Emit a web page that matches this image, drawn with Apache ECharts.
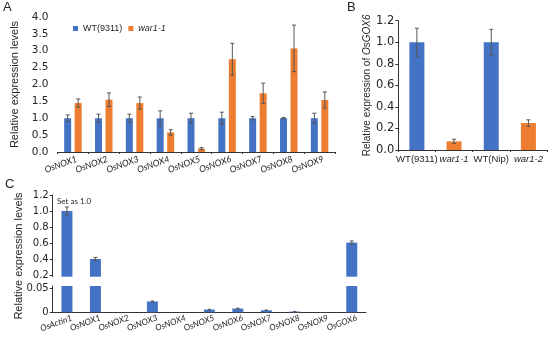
<!DOCTYPE html>
<html><head><meta charset="utf-8">
<script src="https://cdn.jsdelivr.net/npm/echarts@6/dist/echarts.min.js"></script>
<style>html,body{margin:0;padding:0;background:#fff}#c{width:550px;height:344px}</style>
</head><body><div id="c"></div>
<script>
// ---- Panel A data ----
var catsA = ['OsNOX1','OsNOX2','OsNOX3','OsNOX4','OsNOX5','OsNOX6','OsNOX7','OsNOX8','OsNOX9'];
var wtA   = [1.0, 1.0, 1.0, 1.0, 1.0, 1.0, 1.0, 1.0, 1.0];
var wtAErr = [0.10, 0.12, 0.12, 0.22, 0.15, 0.18, 0.05, 0.02, 0.15];
var warA  = [1.45, 1.55, 1.45, 0.58, 0.10, 2.75, 1.74, 3.07, 1.54];
var warAErr = [0.12, 0.20, 0.18, 0.08, 0.03, 0.47, 0.30, 0.69, 0.24];
var ticksA = [0, 0.5, 1.0, 1.5, 2.0, 2.5, 3.0, 3.5, 4.0];
// ---- Panel B data ----
var catsB = ['WT(9311)','war1-1','WT(Nip)','war1-2'];
var valsB = [1.0, 0.08, 1.0, 0.25];
var errB  = [0.13, 0.02, 0.12, 0.03];
var ticksB = [0, 0.2, 0.4, 0.6, 0.8, 1.0, 1.2];
// ---- Panel C data ----
var catsC = ['OsActin1','OsNOX1','OsNOX2','OsNOX3','OsNOX4','OsNOX5','OsNOX6','OsNOX7','OsNOX8','OsNOX9','OsGOX6'];
var valsC = [1.0, 0.40, 0.0003, 0.0226, 0.0002, 0.0057, 0.0078, 0.0042, 0.0015, 0.0003, 0.605];
var errC  = [0.05, 0.02, 0, 0.001, 0, 0.0005, 0.0008, 0.0005, 0.0004, 0, 0.02];
var ticksCUpper = [0.2, 0.4, 0.6, 0.8, 1.0, 1.2];
var ticksCLower = [0, 0.05];
var breakLow = 0.0548, breakHigh = 0.179;

var BLUE = '#4472C4', ORANGE = '#ED7D31', ERR = '#555';
var barWA = 7;

function errRender(offsetPx, cap) {
  return function (params, api) {
    var x = api.value(0), v = api.value(1), e = api.value(2);
    var hi = api.coord([x, v + e]), lo = api.coord([x, v - e]);
    var cx = hi[0] + offsetPx;
    var st = {stroke: ERR, lineWidth: 1};
    return {type: 'group', children: [
      {type: 'line', shape: {x1: cx, y1: hi[1], x2: cx, y2: lo[1]}, style: st},
      {type: 'line', shape: {x1: cx - cap, y1: hi[1], x2: cx + cap, y2: hi[1]}, style: st},
      {type: 'line', shape: {x1: cx - cap, y1: lo[1], x2: cx + cap, y2: lo[1]}, style: st}
    ]};
  };
}
function errData(vals, errs, filt) {
  var out = [];
  vals.forEach(function (v, i) { if (!filt || filt(v)) out.push([i, v, errs[i]]); });
  return out;
}
function tf(size) { return {color: '#262626', fontFamily: 'DejaVu Sans', fontSize: size}; }
function cf(size) { return {color: '#262626', fontFamily: 'Lato', fontStyle: 'italic', fontSize: size}; }

var chart = echarts.init(document.getElementById('c'), null, {renderer: 'canvas'});
var option = {
  animation: false,
  backgroundColor: '#fff',
  grid: [
    {left: 57.5, right: 215, top: 17, bottom: 192},
    {left: 398.3, right: 3, top: 20.7, bottom: 194},
    {left: 52.7, right: 184, top: 195, bottom: 67.3},
    {left: 52.7, right: 184, top: 286, bottom: 31.7}
  ],
  legend: {
    data: ['WT(9311)', 'war1-1'],
    left: 68, top: 19, itemWidth: 5, itemHeight: 5, itemGap: 6,
    icon: 'rect',
    textStyle: {fontFamily: 'Liberation Sans', fontSize: 9, color: '#262626',
      rich: {i: {fontStyle: 'italic', fontFamily: 'Liberation Sans', fontSize: 9, color: '#262626'}}},
    formatter: function (n) { return n === 'war1-1' ? '{i|war1-1}' : n; }
  },
  xAxis: [
    {gridIndex: 0, type: 'category', data: catsA,
     axisLine: {lineStyle: {color: '#333', width: 1}},
     axisTick: {show: true, length: 2, lineStyle: {color: '#333'}},
     axisLabel: Object.assign({interval: 0, rotate: 20, margin: 8, padding: [0, -4, 0, 0]}, cf(9))},
    {gridIndex: 1, type: 'category', data: catsB,
     axisLine: {lineStyle: {color: '#333', width: 1}},
     axisTick: {show: true, length: 2, lineStyle: {color: '#333'}},
     axisLabel: {interval: 0, margin: 4, color: '#262626', fontFamily: 'Liberation Sans', fontSize: 9.5,
       rich: {i: {fontStyle: 'italic', fontFamily: 'Liberation Sans', fontSize: 9.5, color: '#262626'}},
       formatter: function (n) { return n.indexOf('war') === 0 ? '{i|' + n + '}' : n; }}},
    {gridIndex: 2, type: 'category', data: catsC, show: false},
    {gridIndex: 3, type: 'category', data: catsC,
     axisLine: {lineStyle: {color: '#333', width: 1}},
     axisTick: {show: false},
     axisLabel: Object.assign({interval: 0, rotate: 20, margin: 7, padding: [0, -5, 0, 0]}, cf(8.5))}
  ],
  yAxis: [
    {gridIndex: 0, type: 'value', min: 0, max: 4, interval: 0.5,
     splitLine: {show: false}, axisLine: {show: false}, axisTick: {show: false},
     axisLabel: Object.assign({margin: 9, formatter: function (v) { return v.toFixed(1); }}, tf(10.5)),
     name: 'Relative expression levels', nameLocation: 'middle', nameGap: 27,
     nameTextStyle: {fontFamily: 'Liberation Sans', fontSize: 11, color: '#262626'}},
    {gridIndex: 1, type: 'value', min: 0, max: 1.2, interval: 0.2,
     splitLine: {show: false}, axisLine: {show: true, lineStyle: {color: '#333'}},
     axisTick: {show: true, length: 3, lineStyle: {color: '#333'}},
     axisLabel: Object.assign({margin: 4, formatter: function (v) { return v.toFixed(1); }}, tf(11.5)),
     name: 'Relative expression of {i|OsGOX6}', nameLocation: 'middle', nameGap: 20,
     nameTextStyle: {fontFamily: 'Liberation Sans', fontSize: 10, color: '#262626',
       rich: {i: {fontStyle: 'italic', fontFamily: 'Liberation Sans', fontSize: 10, color: '#262626'}}}},
    {gridIndex: 2, type: 'value', min: breakHigh, max: 1.2,
     splitLine: {show: false}, axisLine: {show: true, lineStyle: {color: '#333'}},
     axisTick: {show: true, length: 3, lineStyle: {color: '#333'}, customValues: ticksCUpper},
     axisLabel: Object.assign({margin: 4, customValues: ticksCUpper,
       formatter: function (v) { return v.toFixed(1); }}, tf(10))},
    {gridIndex: 3, type: 'value', min: 0, max: breakLow,
     splitLine: {show: false}, axisLine: {show: true, lineStyle: {color: '#333'}},
     axisTick: {show: true, length: 3, lineStyle: {color: '#333'}, customValues: ticksCLower},
     axisLabel: Object.assign({margin: 4, customValues: ticksCLower,
       formatter: function (v) { return v === 0 ? '0' : String(v); }}, tf(10))}
  ],
  series: [
    {name: 'WT(9311)', type: 'bar', xAxisIndex: 0, yAxisIndex: 0, data: wtA,
     barWidth: barWA, barGap: '50%', itemStyle: {color: BLUE}},
    {name: 'war1-1', type: 'bar', xAxisIndex: 0, yAxisIndex: 0, data: warA,
     barWidth: barWA, barGap: '50%', itemStyle: {color: ORANGE}},
    {type: 'custom', xAxisIndex: 0, yAxisIndex: 0, renderItem: errRender(-barWA * 0.75, 2),
     data: errData(wtA, wtAErr), z: 5},
    {type: 'custom', xAxisIndex: 0, yAxisIndex: 0, renderItem: errRender(barWA * 0.75, 2),
     data: errData(warA, warAErr), z: 5},
    {type: 'bar', xAxisIndex: 1, yAxisIndex: 1, barWidth: 15,
     data: valsB.map(function (v, i) { return {value: v, itemStyle: {color: i % 2 === 0 ? BLUE : ORANGE}}; })},
    {type: 'custom', xAxisIndex: 1, yAxisIndex: 1, renderItem: errRender(0, 2),
     data: errData(valsB, errB), z: 5},
    {type: 'bar', xAxisIndex: 2, yAxisIndex: 2, barWidth: 11, itemStyle: {color: BLUE},
     data: valsC.map(function (v) { return v >= breakHigh ? v : '-'; })},
    {type: 'bar', xAxisIndex: 3, yAxisIndex: 3, barWidth: 11, itemStyle: {color: BLUE}, clip: true,
     data: valsC},
    {type: 'custom', xAxisIndex: 2, yAxisIndex: 2, renderItem: errRender(0, 2),
     data: errData(valsC, errC, function (v) { return v >= breakHigh; }), z: 5},
    {type: 'custom', xAxisIndex: 3, yAxisIndex: 3, renderItem: errRender(0, 1.5),
     data: errData(valsC, errC, function (v) { return v < breakLow && v > 0.001; }), z: 5}
  ],
  graphic: [
    {type: 'text', left: 3, top: 1, style: {text: 'A', font: '13px "Liberation Sans"', fill: '#262626'}},
    {type: 'text', left: 347, top: 1, style: {text: 'B', font: '13px "Liberation Sans"', fill: '#262626'}},
    {type: 'text', left: 5, top: 178, style: {text: 'C', font: '13px "Liberation Sans"', fill: '#262626'}},
    {type: 'text', left: 57, top: 197, style: {text: 'Set as 1.0', font: '8px Lato', fill: '#262626'}},
    {type: 'text', x: 19, y: 256, rotation: Math.PI / 2,
     style: {text: 'Relative expression levels', font: '11px "Liberation Sans"', fill: '#262626',
       align: 'center', verticalAlign: 'middle'}}
  ]
};
chart.setOption(option);
</script></body></html>
